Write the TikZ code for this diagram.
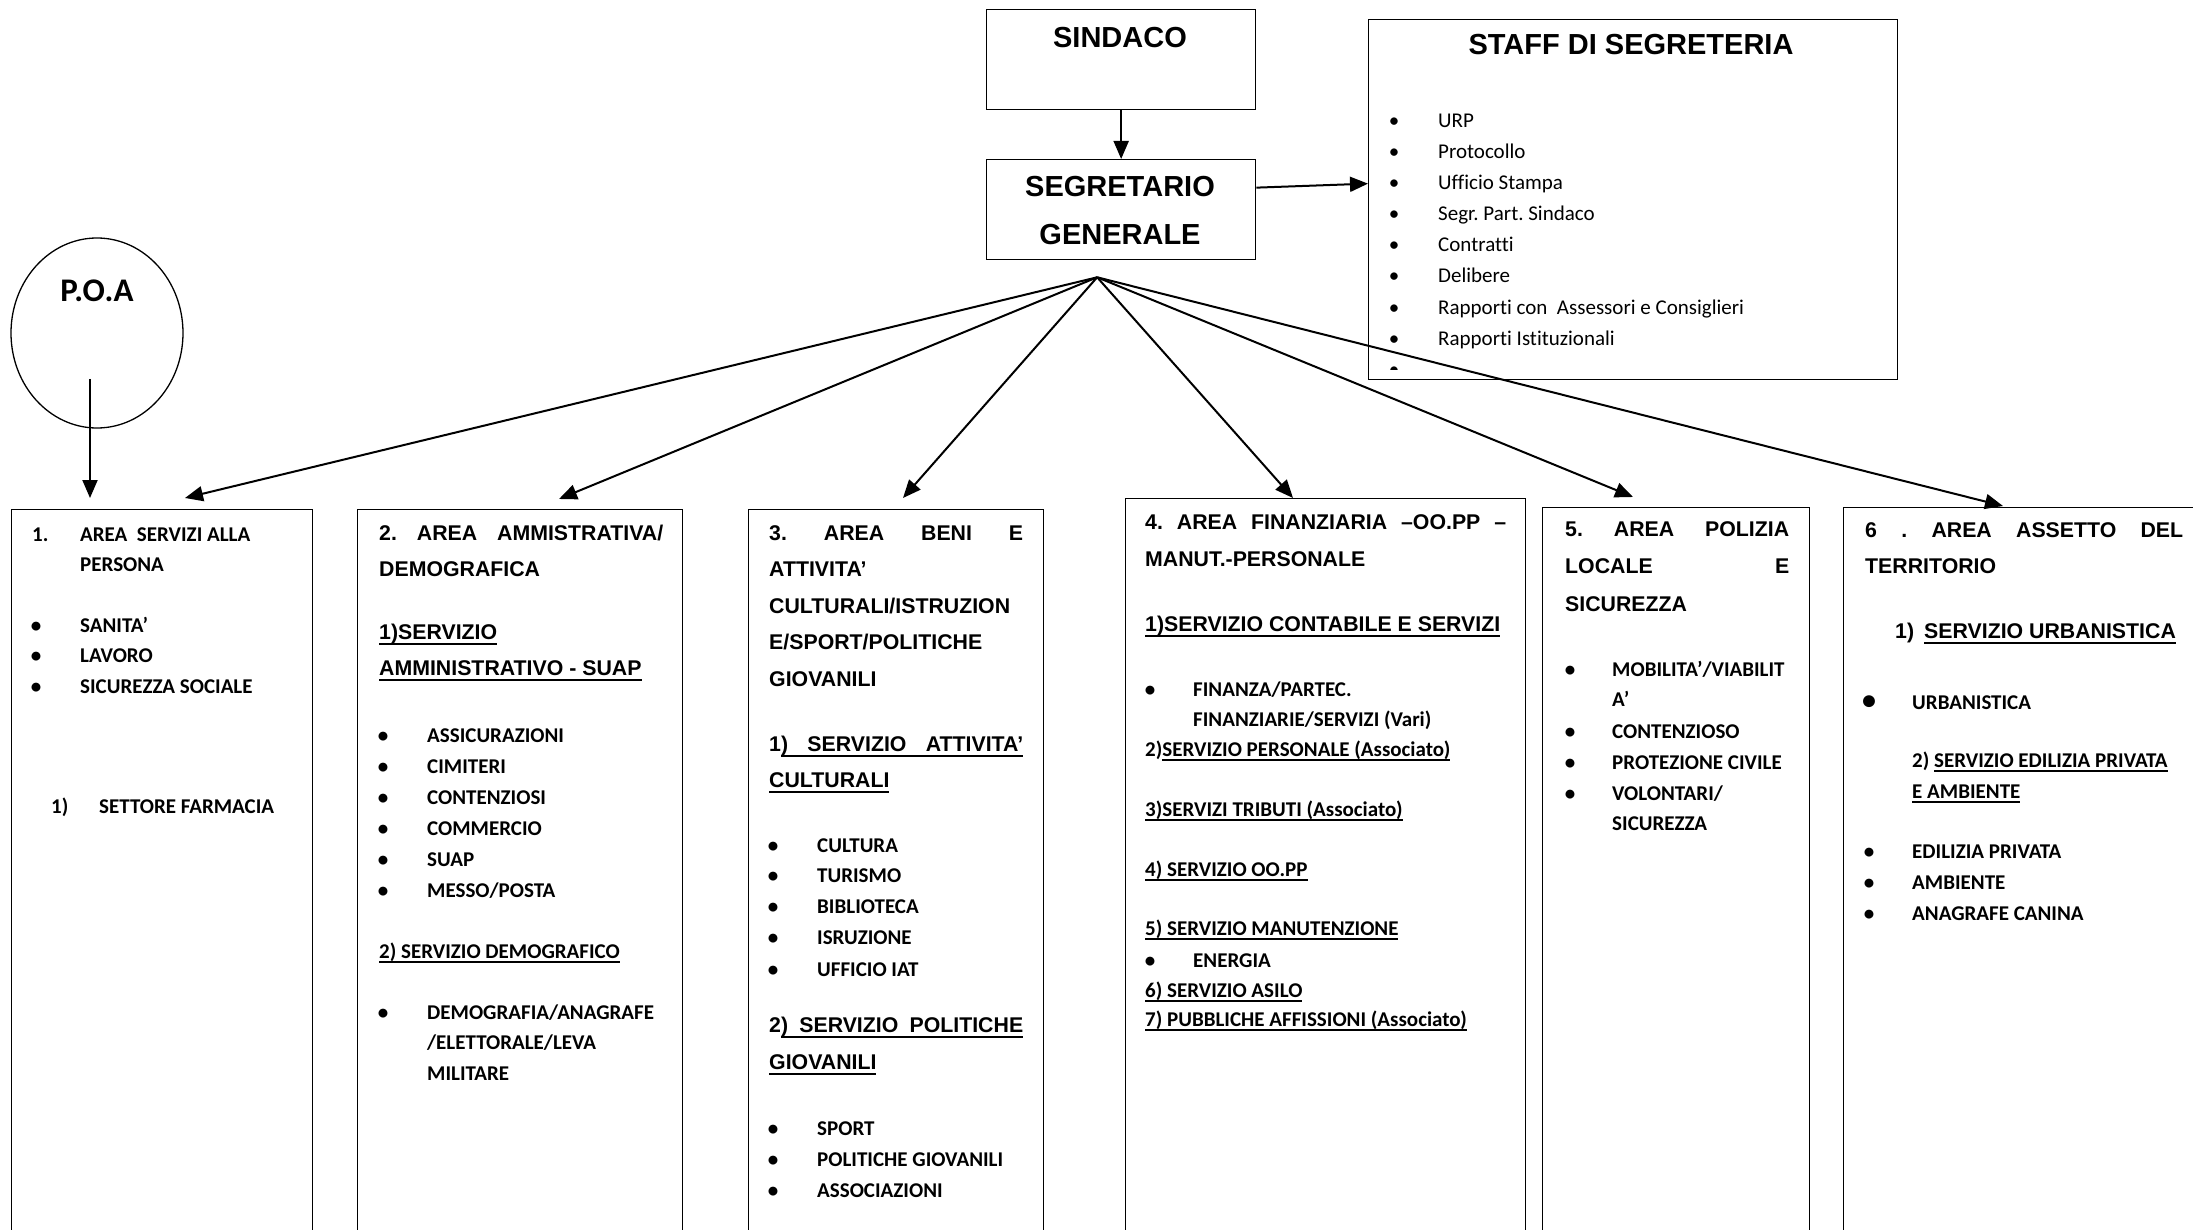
\documentclass[tikz,border=0pt]{standalone}
\usepackage{fontspec}
\usetikzlibrary{arrows.meta,shapes.geometric}
\newfontfamily\arialf{Liberation Sans}
\newfontfamily\calf[Ligatures=NoCommon]{Carlito}
\newcommand\hdfont{\arialf\bfseries\fontsize{21.3}{24}\selectfont}
\newcommand\itfont{\calf\bfseries\fontsize{21}{24}\selectfont}
\newcommand\ttlfont{\arialf\bfseries\fontsize{29}{32}\selectfont}
\newcommand\stfont{\calf\fontsize{21}{24}\selectfont}
\frenchspacing
\newdimen\jw
\newcommand\ula[1]{\setbox0\hbox{#1}\rlap{\rule[-6pt]{\wd0}{2pt}}\box0}
\newcommand\ulc[1]{\setbox0\hbox{#1}\rlap{\rule[-4.5pt]{\wd0}{2pt}}\box0}
\newcommand\just[2]{\makebox[#1][s]{#2}}
\newcommand\jul[3]{\setbox0\hbox{#1}\jw=#2\relax\advance\jw by -\wd0 \box0\rlap{\rule[-6pt]{\jw}{2pt}}\makebox[\jw][s]{#3}}
\newcommand\bul[6][itm]{\node[#1,anchor=base] (#2b) at (#3,#5) {•}; \node[itm] (#2) at (#4,#5) {#6};}
\newcommand\sbul[3]{\node[sti,anchor=base] (#1b) at (1394,#2) {•}; \node[sti] (#1) at (1438,#2) {#3};}
\begin{document}
\frenchspacing
\begin{tikzpicture}[x=1pt,y=-1pt,
 bx/.style={draw,line width=1.3pt,inner sep=0pt,anchor=north west},
 hd/.style={anchor=base west,inner sep=0pt,font=\hdfont},
 itm/.style={anchor=base west,inner sep=0pt,font=\itfont},
 bigb/.style={anchor=base west,inner sep=0pt,font=\calf\bfseries\fontsize{28}{30}\selectfont},
 sti/.style={anchor=base west,inner sep=0pt,font=\stfont},
 ttl/.style={anchor=base,inner sep=0pt,font=\ttlfont},
 arr/.style={line width=2pt,-{Triangle[length=18pt,width=15pt]}}]
\useasboundingbox (0,0) rectangle (2193,1230);
\clip (0,0) rectangle (2193,1230);
\fill[white] (0,0) rectangle (2193,1230);

% top boxes
\node[bx,minimum width=269pt,minimum height=100pt] (sind) at (986,9) {};
\node[bx,minimum width=269pt,minimum height=100pt] (segr) at (986,159) {};
\node[bx,minimum width=529pt,minimum height=360pt] (staff) at (1368,19) {};
\node[ttl] (sindt) at (1120,48) {SINDACO};
\node[ttl] (segrt1) at (1120,197) {SEGRETARIO};
\node[ttl] (segrt2) at (1120,245) {GENERALE};
\node[ttl] (stafft) at (1631,55) {STAFF DI SEGRETERIA};

\sbul{s1}{128}{URP}
\sbul{s2}{159}{Protocollo}
\sbul{s3}{190}{Ufficio Stampa}
\sbul{s4}{221}{Segr. Part. Sindaco}
\sbul{s5}{252}{Contratti}
\sbul{s6}{283}{Delibere}
\sbul{s7}{315}{Rapporti con\ \ Assessori e Consiglieri}
\sbul{s8}{346}{Rapporti Istituzionali}
\begin{scope}
\clip (1380,360) rectangle (1410,369.5);
\node[sti,anchor=base] (s9b) at (1394,377) {•};
\end{scope}

% P.O.A
\node[draw,ellipse,line width=1.3pt,minimum width=172pt,minimum height=190pt,inner sep=0pt] (poa) at (97,333) {};
\node[anchor=base,inner sep=0pt,font=\calf\bfseries\fontsize{33}{36}\selectfont] (poat) at (97,302) {P.O.A};

% area boxes
\node[bx,minimum width=301pt,minimum height=800pt] (b1) at (11,509) {};
\node[bx,minimum width=325pt,minimum height=800pt] (b2) at (357,509) {};
\node[bx,minimum width=295pt,minimum height=800pt] (b3) at (748,509) {};
\node[bx,minimum width=400pt,minimum height=800pt] (b4) at (1125,498) {};
\node[bx,minimum width=267pt,minimum height=800pt] (b5) at (1542,507) {};
\node[bx,minimum width=400pt,minimum height=800pt] (b6) at (1843,507) {};

% arrows
\draw[arr] (sind.south) -- (segr.north);
\draw[arr] ([yshift=22pt]segr.east) -- ([yshift=16pt]staff.west);
\coordinate (apex) at ([xshift=-24pt,yshift=-17pt]segr.south);
\draw[arr] (apex) -- ([xshift=174pt,yshift=11pt]b1.north west);
\draw[arr] (apex) -- ([xshift=202pt,yshift=10pt]b2.north west);
\draw[arr] (apex) -- ([xshift=155pt,yshift=11pt]b3.north west);
\draw[arr] (apex) -- ([xshift=168pt,yshift=0pt]b4.north west);
\draw[arr] (apex) -- ([xshift=91pt,yshift=10pt]b5.north west);
\draw[arr] (apex) -- ([xshift=160pt,yshift=1pt]b6.north west);
\draw[arr] ([xshift=-7pt,yshift=-46pt]poa.center) -- ([xshift=79pt,yshift=11pt]b1.north west);

% box 1
\node[itm] (h1n) at (32,541) {1.};
\node[itm] (h1a) at (80,541) {AREA\ \ SERVIZI ALLA};
\node[itm] (h1b) at (80,571) {PERSONA};
\bul{i11}{36}{80}{632}{SANITA’}
\bul{i12}{36}{80}{662}{LAVORO}
\bul{i13}{36}{80}{693}{SICUREZZA SOCIALE}
\node[itm] (f1n) at (51,813) {1)};
\node[itm] (f1a) at (99,813) {SETTORE FARMACIA};

% box 2
\node[hd] (h2a) at (379,540) {\just{284pt}{2. AREA AMMISTRATIVA/}};
\node[hd] (h2b) at (379,576) {DEMOGRAFICA};
\node[hd] (s2a) at (379,639) {\ula{1)SERVIZIO}};
\node[hd] (s2b) at (379,675) {\ula{AMMINISTRATIVO - SUAP}};
\bul{i21}{383}{427}{742}{ASSICURAZIONI}
\bul{i22}{383}{427}{773}{CIMITERI}
\bul{i23}{383}{427}{804}{CONTENZIOSI}
\bul{i24}{383}{427}{835}{COMMERCIO}
\bul{i25}{383}{427}{866}{SUAP}
\bul{i26}{383}{427}{897}{MESSO/POSTA}
\node[itm] (s2c) at (379,958) {\ulc{2) SERVIZIO DEMOGRAFICO}};
\bul{i27}{383}{427}{1019}{DEMOGRAFIA/ANAGRAFE}
\node[itm] (i27l2) at (427,1049) {/ELETTORALE/LEVA};
\node[itm] (i27l3) at (427,1080) {MILITARE};

% box 3
\node[hd] (h3a) at (769,540) {\just{254pt}{3. AREA BENI E}};
\node[hd] (h3b) at (769,576) {ATTIVITA’};
\node[hd] (h3c) at (769,613) {CULTURALI/ISTRUZION};
\node[hd] (h3d) at (769,649) {E/SPORT/POLITICHE};
\node[hd] (h3e) at (769,686) {GIOVANILI};
\node[hd] (s3a) at (769,751) {\jul{1}{254pt}{) SERVIZIO ATTIVITA’}};
\node[hd] (s3b) at (769,787) {\ula{CULTURALI}};
\bul{i31}{773}{817}{852}{CULTURA}
\bul{i32}{773}{817}{882}{TURISMO}
\bul{i33}{773}{817}{913}{BIBLIOTECA}
\bul{i34}{773}{817}{944}{ISRUZIONE}
\bul{i35}{773}{817}{976}{UFFICIO IAT}
\node[hd] (s3c) at (769,1032) {\jul{2}{254pt}{) SERVIZIO POLITICHE}};
\node[hd] (s3d) at (769,1069) {\ula{GIOVANILI}};
\bul{i36}{773}{817}{1135}{SPORT}
\bul{i37}{773}{817}{1166}{POLITICHE GIOVANILI}
\bul{i38}{773}{817}{1197}{ASSOCIAZIONI}

% box 4
\node[hd] (h4a) at (1145,529) {\just{361pt}{4. AREA FINANZIARIA –OO.PP –}};
\node[hd] (h4b) at (1145,566) {MANUT.-PERSONALE};
\node[hd] (s4a) at (1145,631) {\ula{1)SERVIZIO CONTABILE E SERVIZI}};
\bul{i41}{1150}{1193}{696}{FINANZA/PARTEC.}
\node[itm] (i41l2) at (1193,726) {FINANZIARIE/SERVIZI (Vari)};
\node[itm] (s4b) at (1145,756) {2)\ulc{SERVIZIO PERSONALE (Associato)}};
\node[itm] (s4c) at (1145,816) {\ulc{3)SERVIZI TRIBUTI (Associato)}};
\node[itm] (s4d) at (1145,876) {\ulc{4) SERVIZIO OO.PP}};
\node[itm] (s4e) at (1145,935) {\ulc{5) SERVIZIO MANUTENZIONE}};
\bul{i42}{1150}{1193}{967}{ENERGIA}
\node[itm] (s4f) at (1145,997) {\ulc{6) SERVIZIO ASILO}};
\node[itm] (s4g) at (1145,1026) {\ulc{7) PUBBLICHE AFFISSIONI (Associato)}};

% box 5
\node[hd] (h5a) at (1565,536) {\just{224pt}{5. AREA POLIZIA}};
\node[hd] (h5b) at (1565,573) {\just{224pt}{LOCALE E}};
\node[hd] (h5c) at (1565,611) {SICUREZZA};
\bul{i51}{1570}{1612}{676}{MOBILITA’/VIABILIT}
\node[itm] (i51l2) at (1612,706) {A’};
\bul{i52}{1570}{1612}{738}{CONTENZIOSO}
\bul{i53}{1570}{1612}{769}{PROTEZIONE CIVILE}
\bul{i54}{1570}{1612}{800}{VOLONTARI/}
\node[itm] (i54l2) at (1612,830) {SICUREZZA};

% box 6
\node[hd] (h6a) at (1865,537) {\just{318pt}{6 . AREA ASSETTO DEL}};
\node[hd] (h6b) at (1865,573) {TERRITORIO};
\node[hd] (s6n) at (1895,638) {1)};
\node[hd] (s6a) at (1924,638) {\ula{SERVIZIO URBANISTICA}};
\bul[bigb]{i61}{1869}{1912}{709}{URBANISTICA}
\node[itm] (s6b) at (1912,767) {2) \ulc{SERVIZIO EDILIZIA PRIVATA}};
\node[itm] (s6c) at (1912,798) {\ulc{E AMBIENTE}};
\bul{i62}{1869}{1912}{858}{EDILIZIA PRIVATA}
\bul{i63}{1869}{1912}{889}{AMBIENTE}
\bul{i64}{1869}{1912}{920}{ANAGRAFE CANINA}
\end{tikzpicture}
\end{document}
